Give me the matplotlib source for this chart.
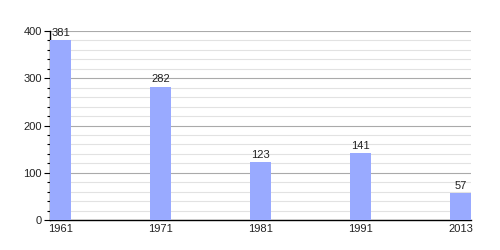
import matplotlib
matplotlib.use("Agg")
import matplotlib.pyplot as plt
import numpy as np
from matplotlib.ticker import MultipleLocator

years = ["1961", "1971", "1981", "1991", "2013"]
values = [381, 282, 123, 141, 57]

plt.rcParams["font.family"] = ["Liberation Sans", "DejaVu Sans"]

fig = plt.figure(figsize=(5, 2.5), dpi=100)
ax = fig.add_axes([0.1, 0.12, 0.842, 0.756])

x = np.arange(len(years))
bw = 0.21
bars = ax.bar(x, values, width=bw, align="edge", color="#99aaff", zorder=3)
for xi, v in zip(x, values):
    ax.text(xi + bw / 2, v + 5, str(v), ha="center", va="bottom", fontsize=8, color="#222222", zorder=4)

ax.set_xlim(0, len(years) - 1 + bw)
ax.set_ylim(0, 400)
ax.set_xticks(x + bw / 2)
ax.set_xticklabels(years, fontsize=8, color="#222222")
ax.tick_params(axis="x", length=0, pad=3)
ax.yaxis.set_major_locator(MultipleLocator(100))
ax.yaxis.set_minor_locator(MultipleLocator(20))
ax.tick_params(axis="y", which="major", length=4, width=0.8, labelsize=8, pad=2, labelcolor="#222222")
ax.tick_params(axis="y", which="minor", length=2.5, width=0.8)
ax.grid(axis="y", which="minor", color="#e2e2e2", linewidth=0.8, zorder=0)
ax.grid(axis="y", which="major", color="#aaaaaa", linewidth=0.8, zorder=1)
for s in ["top", "right"]:
    ax.spines[s].set_visible(False)
ax.spines["left"].set_linewidth(1)
ax.spines["bottom"].set_linewidth(1)

fig.savefig("out.png", dpi=100)
